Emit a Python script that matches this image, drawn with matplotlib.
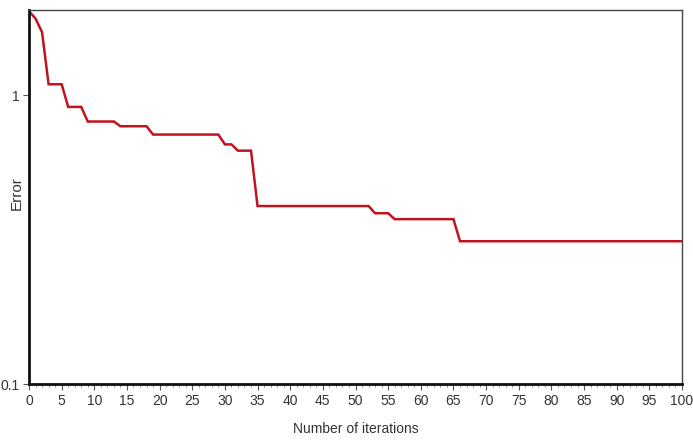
import matplotlib
matplotlib.use("Agg")
import matplotlib.pyplot as plt
from matplotlib.ticker import MultipleLocator, FixedLocator, NullLocator, FixedFormatter

# Error per iteration of the optimisation run
iterations = list(range(0, 101))
error = [
    1.95, 1.84, 1.65, 1.09, 1.09, 1.09, 0.91, 0.91, 0.91, 0.81,
    0.81, 0.81, 0.81, 0.81, 0.78, 0.78, 0.78, 0.78, 0.78, 0.73,
    0.73, 0.73, 0.73, 0.73, 0.73, 0.73, 0.73, 0.73, 0.73, 0.73,
    0.675, 0.675, 0.642, 0.642, 0.642, 0.413, 0.413, 0.413, 0.413, 0.413,
    0.413, 0.413, 0.413, 0.413, 0.413, 0.413, 0.413, 0.413, 0.413, 0.413,
    0.413, 0.413, 0.413, 0.39, 0.39, 0.39, 0.372, 0.372, 0.372, 0.372,
    0.372, 0.372, 0.372, 0.372, 0.372, 0.372, 0.312, 0.312, 0.312, 0.312,
    0.312, 0.312, 0.312, 0.312, 0.312, 0.312, 0.312, 0.312, 0.312, 0.312,
    0.312, 0.312, 0.312, 0.312, 0.312, 0.312, 0.312, 0.312, 0.312, 0.312,
    0.312, 0.312, 0.312, 0.312, 0.312, 0.312, 0.312, 0.312, 0.312, 0.312,
    0.312,
]
y_ticks = [0.1, 1]
y_tick_labels = ["0.1", "1"]

font = ["Liberation Sans Narrow", "Liberation Sans", "DejaVu Sans"]
plt.rcParams["font.family"] = font

fig = plt.figure(figsize=(6.93, 4.41), dpi=100)
ax = fig.add_axes([29 / 693, 57 / 441, (682 - 29) / 693, (384 - 10) / 441])

ax.plot(iterations, error, color="#bf1420", linewidth=1.8, solid_joinstyle="miter")

ax.set_yscale("log")
ax.set_xlim(0, 100)
ax.set_ylim(0.1, 1.97)

ax.xaxis.set_major_locator(MultipleLocator(5))
ax.xaxis.set_minor_locator(MultipleLocator(1))
ax.yaxis.set_major_locator(FixedLocator(y_ticks))
ax.yaxis.set_major_formatter(FixedFormatter(y_tick_labels))
ax.yaxis.set_minor_locator(NullLocator())

ax.tick_params(axis="both", which="major", direction="out", length=4, width=0.8,
               color="#555555", labelsize=10, labelcolor="#333333", pad=3)
ax.tick_params(axis="x", which="minor", direction="out", length=2, width=0.6, color="#777777")

for side in ("left", "bottom"):
    ax.spines[side].set_linewidth(2.0)
    ax.spines[side].set_color("#111111")
for side in ("top", "right"):
    ax.spines[side].set_linewidth(1.0)
    ax.spines[side].set_color("#444444")

ax.set_xlabel("Number of iterations", fontsize=10, color="#333333", labelpad=10)
ax.set_ylabel("Error", fontsize=11, color="#333333", va="center")
ax.yaxis.set_label_coords(-12 / 653, 0.51)

fig.savefig("out.png", dpi=100)
